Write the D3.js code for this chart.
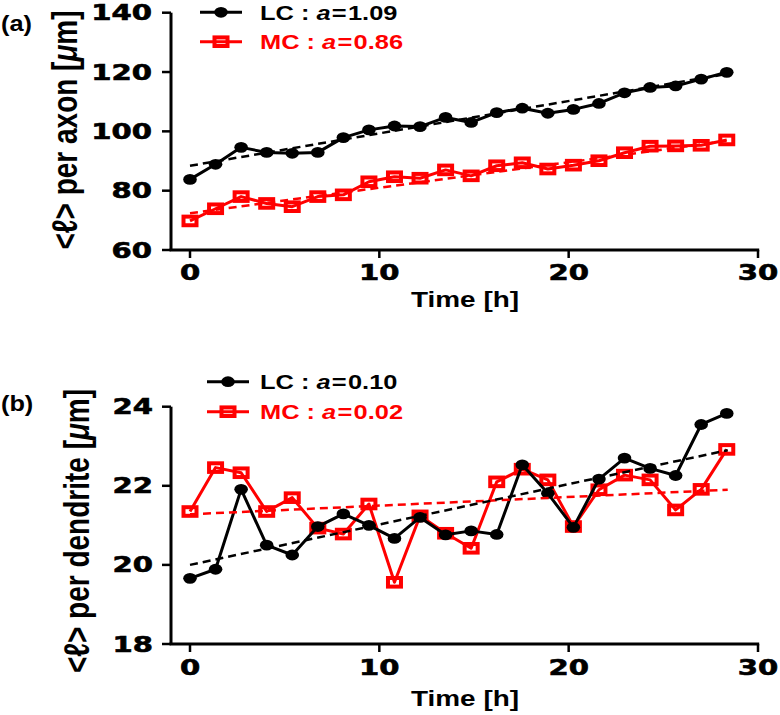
<!DOCTYPE html>
<html><head><meta charset="utf-8">
<script src="https://cdn.jsdelivr.net/npm/d3@7"></script>
<style>body{margin:0;background:#fff}svg{display:block}</style>
</head><body><svg id="c" width="780" height="715"></svg>
<script>
// ---------- data ----------
const timeH   = [0, 1.35, 2.7, 4.05, 5.4, 6.75, 8.1, 9.45, 10.8, 12.15, 13.5, 14.85, 16.2, 17.55, 18.9, 20.25, 21.6, 22.95, 24.3, 25.65, 27.0, 28.35];
const lcAxon  = [83.8, 88.9, 94.6, 92.9, 92.6, 92.9, 97.9, 100.5, 101.8, 101.6, 104.7, 103.0, 106.3, 107.8, 106.1, 107.4, 109.4, 113.0, 114.8, 115.3, 117.6, 119.9];
const mcAxon  = [69.8, 73.9, 78.0, 75.7, 74.6, 78.0, 78.6, 83.0, 84.7, 84.2, 87.0, 85.0, 88.4, 89.4, 87.3, 88.6, 90.1, 92.8, 95.0, 95.1, 95.3, 97.1];
const lcDend  = [19.66, 19.89, 21.91, 20.50, 20.25, 20.97, 21.29, 21.00, 20.67, 21.20, 20.76, 20.86, 20.77, 22.53, 21.81, 20.95, 22.17, 22.70, 22.44, 22.26, 23.55, 23.83];
const mcDend  = [21.35, 22.46, 22.33, 21.35, 21.70, 20.93, 20.78, 21.54, 19.56, 21.24, 20.80, 20.42, 22.10, 22.42, 22.15, 20.97, 21.90, 22.27, 22.15, 21.39, 21.91, 22.92];
const fitT      = [0, 28.4];
const fitLcAxon = [88.4, 119.4];
const fitMcAxon = [72.4, 96.8];
const fitLcDend = [20.0, 22.9];
const fitMcDend = [21.28, 21.9];
const xTicks     = [0, 10, 20, 30];
const yTicksAxon = [60, 80, 100, 120, 140];
const yTicksDend = [18, 20, 22, 24];
const legendAxon = ["1.09", "0.86"];
const legendDend = ["0.10", "0.02"];
const seriesNames = ["LC", "MC"];
const colors = ["#000000", "#ff0000"];

// ---------- drawing ----------
const svg = d3.select("#c");
const SX = 1.27;      // horizontal stretch of the reference
const TSX = 1.42;     // stretch of tick numerals
const FONT = "'Liberation Sans', Arial, sans-serif";
const TFONT = "'DejaVu Sans', sans-serif";

function stext(parent, x, y, str, o) {
  const g = parent.append("g").attr("transform", `translate(${x},${y}) scale(${o.sx || SX},1)` + (o.rot ? ` rotate(${o.rot})` : ""));
  const t = g.append("text")
    .attr("font-family", o.font || FONT)
    .attr("font-weight", "bold")
    .attr("font-size", o.size)
    .attr("fill", o.fill || "#000")
    .attr("text-anchor", o.anchor || "start");
  if (o.stroke) t.attr("stroke", o.fill || "#000").attr("stroke-width", o.stroke);
  if (typeof str === "string") t.text(str); else str(t);
  return t;
}

function panel(cfg) {
  const x = d3.scaleLinear().domain([0, 30]).range([190, 758]);
  const y = d3.scaleLinear().domain(cfg.yDomain).range(cfg.yRange);
  const g = svg.append("g");
  const axX = 171, axY = cfg.yRange[0];

  // y axis
  g.append("line").attr("x1", axX).attr("x2", axX).attr("y1", y(cfg.yDomain[1])).attr("y2", axY)
    .attr("stroke", "#000").attr("stroke-width", 3);
  cfg.yTicks.forEach(v => {
    g.append("line").attr("x1", axX - 9).attr("x2", axX).attr("y1", y(v)).attr("y2", y(v))
      .attr("stroke", "#000").attr("stroke-width", 2.5);
    stext(g, cfg.yLabelRight, y(v) + 7.5, String(v), {size: 20.5, font: TFONT, sx: TSX, anchor: "end", stroke: 0.6});
  });
  // x axis
  g.append("line").attr("x1", axX - 1.5).attr("x2", x(30) + 1.2).attr("y1", axY).attr("y2", axY)
    .attr("stroke", "#000").attr("stroke-width", 3);
  xTicks.forEach(v => {
    g.append("line").attr("x1", x(v)).attr("x2", x(v)).attr("y1", axY).attr("y2", axY + 8)
      .attr("stroke", "#000").attr("stroke-width", 2.5);
    stext(g, x(v), axY + cfg.xLabelDy, String(v), {size: 20.5, font: TFONT, sx: TSX, anchor: "middle", stroke: 0.6});
  });
  stext(g, 465, cfg.xTitleY, "Time [h]", {size: 22, anchor: "middle"});
  stext(g, cfg.yTitleX, cfg.yTitleCY, t => {
    t.append("tspan").text(cfg.yTitle + " [");
    t.append("tspan").attr("font-style", "italic").text("μ");
    t.append("tspan").text("m]");
  }, {size: 28, anchor: "middle", rot: -90});
  stext(g, 1, cfg.tagY, cfg.tag, {size: 22, sx: 1.15});

  const line = d3.line().x((d, i) => x(timeH[i])).y(d => y(d));
  const fline = d3.line().x((d, i) => x(fitT[i])).y(d => y(d));

  // MC series
  g.append("path").attr("d", line(cfg.mc)).attr("fill", "none").attr("stroke", colors[1]).attr("stroke-width", 3).attr("stroke-linejoin", "round");
  g.selectAll(null).data(cfg.mc).enter().append("rect")
    .attr("x", (d, i) => x(timeH[i]) - 6.5).attr("y", d => y(d) - 4.3)
    .attr("width", 13).attr("height", 8.6)
    .attr("fill", "none").attr("stroke", colors[1]).attr("stroke-width", 4);
  // LC series
  g.append("path").attr("d", line(cfg.lc)).attr("fill", "none").attr("stroke", colors[0]).attr("stroke-width", 3).attr("stroke-linejoin", "round");
  g.selectAll(null).data(cfg.lc).enter().append("ellipse")
    .attr("cx", (d, i) => x(timeH[i])).attr("cy", d => y(d))
    .attr("rx", 6.8).attr("ry", 5.4).attr("fill", colors[0]);
  // fits
  g.append("path").attr("d", fline(cfg.fitMc)).attr("fill", "none").attr("stroke", colors[1]).attr("stroke-width", 2.5).attr("stroke-dasharray", "8,5");
  g.append("path").attr("d", fline(cfg.fitLc)).attr("fill", "none").attr("stroke", colors[0]).attr("stroke-width", 2.5).attr("stroke-dasharray", "8,5");

  // legend
  cfg.legend.forEach((aval, k) => {
    const ly = cfg.legY[k];
    g.append("line").attr("x1", cfg.legX0).attr("x2", cfg.legX0 + 42).attr("y1", ly).attr("y2", ly)
      .attr("stroke", colors[k]).attr("stroke-width", 3);
    const cx = cfg.legX0 + 21;
    if (k === 0) {
      g.append("ellipse").attr("cx", cx).attr("cy", ly).attr("rx", 6.8).attr("ry", 5.4).attr("fill", colors[0]);
    } else {
      g.append("rect").attr("x", cx - 6.5).attr("y", ly - 4.3).attr("width", 13).attr("height", 8.6)
        .attr("fill", "none").attr("stroke", colors[1]).attr("stroke-width", 4);
    }
    stext(g, 260, ly + 7.3, t => {
      t.append("tspan").text(seriesNames[k] + " : ");
      t.append("tspan").attr("font-style", "italic").text("a");
      t.append("tspan").attr("dx", 1).text("=");
      t.append("tspan").attr("dx", 1).text(aval);
    }, {size: 20, fill: colors[k]});
  });
}

panel({
  yDomain: [60, 140], yRange: [250, 12.7], yTicks: yTicksAxon, yLabelRight: 152,
  xLabelDy: 30, xTitleY: 307, yTitleX: 77, yTitleCY: 130, yTitle: "<ℓ> per axon",
  tag: "(a)", tagY: 31,
  lc: lcAxon, mc: mcAxon, fitLc: fitLcAxon, fitMc: fitMcAxon,
  legend: legendAxon, legY: [12.3, 41.7], legX0: 200
});
panel({
  yDomain: [18, 24], yRange: [644, 406.7], yTicks: yTicksDend, yLabelRight: 153,
  xLabelDy: 31, xTitleY: 706, yTitleX: 89, yTitleCY: 531, yTitle: "<ℓ> per dendrite",
  tag: "(b)", tagY: 411,
  lc: lcDend, mc: mcDend, fitLc: fitLcDend, fitMc: fitMcDend,
  legend: legendDend, legY: [381.7, 411.7], legX0: 207
});
</script></body></html>
